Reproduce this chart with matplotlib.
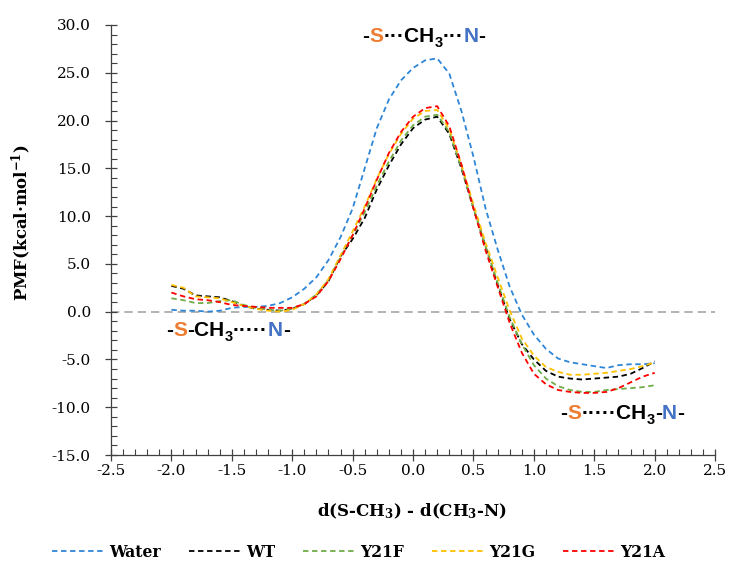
"""PMF profiles for methyl transfer: water vs WT and Y21 mutants."""

import matplotlib

matplotlib.use("Agg")
import matplotlib.pyplot as plt
from matplotlib.ticker import FormatStrFormatter, MultipleLocator

plt.rcParams["axes.unicode_minus"] = False
plt.rcParams["mathtext.fontset"] = "dejavuserif"

# reaction coordinate, d(S-CH3) - d(CH3-N) [Angstrom]
rc = [-2.0, -1.9, -1.8, -1.7, -1.6, -1.5, -1.4, -1.3, -1.2, -1.1,
      -1.0, -0.9, -0.8, -0.7, -0.6, -0.5, -0.4, -0.3, -0.2, -0.1,
      0.0, 0.1, 0.2, 0.3, 0.4, 0.5, 0.6, 0.7, 0.8, 0.9,
      1.0, 1.1, 1.2, 1.3, 1.4, 1.5, 1.6, 1.7, 1.8, 1.9, 2.0]

# PMF [kcal/mol]
pmf_water = [0.2, 0.1, 0.1, 0.0, 0.1, 0.4, 0.5, 0.5, 0.6, 0.9,
             1.5, 2.4, 3.6, 5.4, 7.8, 10.8, 15.0, 19.2, 22.2, 24.2,
             25.5, 26.3, 26.5, 24.9, 21.0, 16.2, 10.8, 6.5, 2.6, -0.3,
             -2.4, -3.9, -4.9, -5.3, -5.5, -5.7, -5.9, -5.6, -5.5, -5.5, -5.4]
pmf_wt = [2.7, 2.4, 1.7, 1.6, 1.5, 1.1, 0.6, 0.3, 0.2, 0.1,
          0.3, 0.8, 1.7, 3.2, 5.8, 7.6, 9.8, 12.8, 15.3, 17.5,
          19.2, 20.1, 20.4, 18.6, 15.0, 10.8, 6.8, 2.8, -0.8, -3.4,
          -5.0, -6.2, -6.8, -7.0, -7.1, -7.0, -6.9, -6.8, -6.5, -5.9, -5.2]
pmf_y21f = [1.4, 1.2, 0.9, 0.9, 1.1, 1.2, 0.7, 0.4, 0.2, 0.1,
            0.3, 0.8, 1.8, 3.3, 5.7, 8.0, 10.4, 13.2, 15.7, 17.9,
            19.5, 20.4, 20.6, 18.8, 15.1, 10.8, 6.8, 3.0, -0.6, -3.4,
            -5.6, -7.0, -7.8, -8.2, -8.4, -8.4, -8.2, -8.1, -8.0, -7.9, -7.7]
pmf_y21g = [2.8, 2.5, 1.6, 1.5, 1.4, 1.0, 0.6, 0.3, 0.1, 0.0,
            0.2, 0.8, 1.8, 3.4, 5.9, 8.4, 11.0, 13.9, 16.5, 18.6,
            20.2, 21.0, 21.1, 19.1, 15.4, 11.2, 7.2, 3.6, 0.1, -2.8,
            -4.6, -5.8, -6.3, -6.6, -6.6, -6.5, -6.4, -6.2, -6.0, -5.7, -5.3]
pmf_y21a = [2.0, 1.6, 1.3, 1.2, 1.0, 0.7, 0.6, 0.5, 0.4, 0.4,
            0.4, 0.8, 1.6, 3.2, 5.5, 8.0, 10.8, 13.8, 16.6, 18.8,
            20.4, 21.3, 21.5, 19.4, 15.4, 10.8, 6.4, 2.6, -1.2, -4.3,
            -6.5, -7.6, -8.2, -8.4, -8.5, -8.5, -8.4, -8.0, -7.4, -6.8, -6.4]

SERIES = [
    ("Water", pmf_water, "#2E86D6"),
    ("WT", pmf_wt, "#000000"),
    ("Y21F", pmf_y21f, "#70AD47"),
    ("Y21G", pmf_y21g, "#FFC000"),
    ("Y21A", pmf_y21a, "#FF0000"),
]

S_COLOR = "#ED7D31"
N_COLOR = "#4472C4"
LABEL_FONT = "Liberation Sans"


def chem_label(ax, x, y, parts, size=15):
    """Draw a row of coloured text pieces; '_3' marks a subscript."""
    prev = None
    prev_sub = False
    for text, color in parts:
        sub = text.startswith("_")
        s = text[1:] if sub else text
        kw = dict(color=color, fontsize=size * (0.7 if sub else 1.0),
                  fontweight="bold", family=LABEL_FONT, ha="left", va="bottom")
        if prev is None:
            prev = ax.text(x, y, s, transform=ax.transData, **kw)
            continue
        dy = 0
        if sub and not prev_sub:
            dy = -3
        elif prev_sub and not sub:
            dy = 3
        prev = ax.annotate(s, xy=(1, 0), xycoords=prev, xytext=(0, dy),
                           textcoords="offset points", **kw)
        prev_sub = sub


fig = plt.figure(figsize=(7.32, 5.67), dpi=100)
ax = fig.add_axes([0.1516, 0.1975, 0.8254, 0.7585])

ax.axhline(0, color="#A6A6A6", lw=1.2, ls=(0, (5, 3)), zorder=1)
for name, vals, color in SERIES:
    ax.plot(rc, vals, color=color, lw=1.3, ls=(0, (3, 2)), label=name, zorder=2)

ax.set_xlim(-2.5, 2.5)
ax.set_ylim(-15, 30)
ax.xaxis.set_major_locator(MultipleLocator(0.5))
ax.xaxis.set_minor_locator(MultipleLocator(0.1))
ax.yaxis.set_major_locator(MultipleLocator(5))
ax.yaxis.set_minor_locator(MultipleLocator(1))
ax.xaxis.set_major_formatter(FormatStrFormatter("%.1f"))
ax.yaxis.set_major_formatter(FormatStrFormatter("%.1f"))
ax.tick_params(which="major", direction="inout", length=9, width=0.9,
               color="#404040", labelsize=11)
ax.tick_params(axis="x", which="major", pad=2)
ax.tick_params(axis="y", which="major", pad=10)
ax.tick_params(which="minor", direction="in", length=4, width=0.8, color="#404040")
for lab in ax.get_xticklabels() + ax.get_yticklabels():
    lab.set_family("DejaVu Serif")
for side in ("top", "right"):
    ax.spines[side].set_visible(False)
for side in ("left", "bottom"):
    ax.spines[side].set_color("#404040")
    ax.spines[side].set_linewidth(0.9)

ax.set_ylabel("PMF(kcal·mol$^{\\mathbf{-1}}$)", family="DejaVu Serif",
              fontweight="bold", fontsize=12)
ax.yaxis.set_label_coords(-0.128, 0.54)
ax.set_xlabel("d(S-CH$_\\mathbf{3}$) - d(CH$_\\mathbf{3}$-N)", family="DejaVu Serif",
              fontweight="bold", fontsize=12)
ax.xaxis.set_label_coords(0.498, -0.108)

chem_label(ax, -0.42, 27.8, [("-", "black"), ("S", S_COLOR), ("···CH", "black"),
                             ("_3", "black"), ("···", "black"), ("N", N_COLOR),
                             ("-", "black")])
chem_label(ax, -2.04, -3.0, [("-", "black"), ("S", S_COLOR), ("-CH", "black"),
                             ("_3", "black"), ("·····", "black"), ("N", N_COLOR),
                             ("-", "black")])
chem_label(ax, 1.22, -11.6, [("-", "black"), ("S", S_COLOR), ("·····CH", "black"),
                             ("_3", "black"), ("-", "black"), ("N", N_COLOR),
                             ("-", "black")])

fig.legend(loc="center", bbox_to_anchor=(0.49, 0.026), ncol=5, frameon=False,
           handlelength=3.0, handletextpad=0.3, columnspacing=1.6,
           prop={"family": "DejaVu Serif", "weight": "bold", "size": 12.5,
                 "stretch": "condensed"})

fig.savefig("out.png", dpi=100)
